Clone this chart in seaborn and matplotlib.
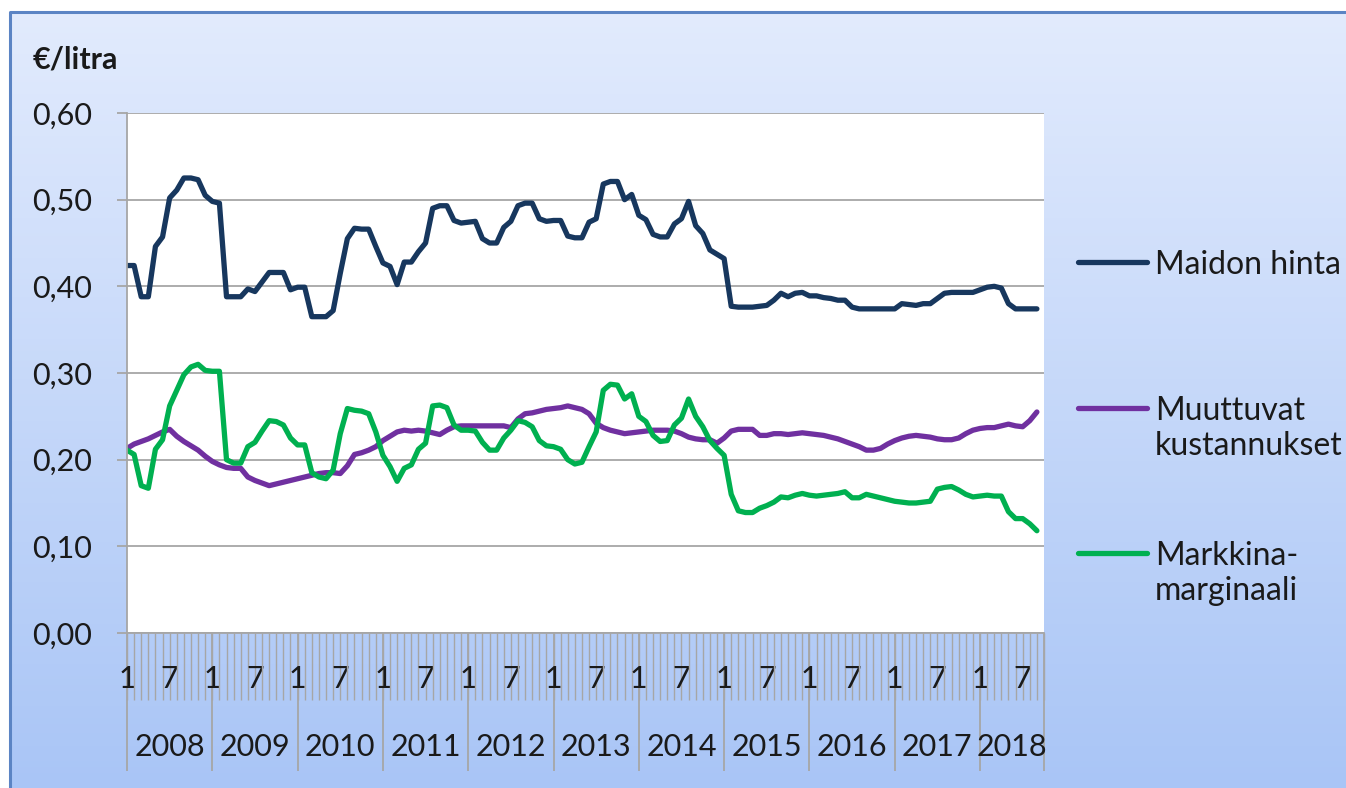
import numpy as np
import pandas as pd
import matplotlib
matplotlib.use("Agg")
import matplotlib.pyplot as plt
import seaborn as sns
from matplotlib.lines import Line2D

# Monthly data, 1/2008 - 9/2018 (€/litra)
years = list(range(2008, 2019))
months_per_year = [12] * 10 + [9]

maidon_hinta = [
    0.424, 0.424, 0.388, 0.388, 0.446, 0.457, 0.502, 0.511, 0.525, 0.525, 0.523, 0.505,
    0.498, 0.496, 0.388, 0.388, 0.388, 0.397, 0.394, 0.405, 0.416, 0.416, 0.416, 0.396,
    0.399, 0.399, 0.365, 0.365, 0.365, 0.372, 0.415, 0.455, 0.467, 0.466, 0.466, 0.446,
    0.427, 0.423, 0.402, 0.428, 0.428, 0.440, 0.450, 0.490, 0.493, 0.493, 0.476, 0.473,
    0.474, 0.475, 0.455, 0.450, 0.450, 0.468, 0.475, 0.493, 0.496, 0.496, 0.478, 0.475,
    0.476, 0.476, 0.458, 0.456, 0.456, 0.474, 0.478, 0.518, 0.521, 0.521, 0.500, 0.506,
    0.482, 0.477, 0.460, 0.457, 0.457, 0.472, 0.478, 0.498, 0.470, 0.461, 0.442, 0.437,
    0.432, 0.377, 0.376, 0.376, 0.376, 0.377, 0.378, 0.384, 0.392, 0.388, 0.392, 0.393,
    0.389, 0.389, 0.387, 0.386, 0.384, 0.384, 0.376, 0.374, 0.374, 0.374, 0.374, 0.374,
    0.374, 0.380, 0.379, 0.378, 0.380, 0.380, 0.386, 0.392, 0.393, 0.393, 0.393, 0.393,
    0.396, 0.399, 0.400, 0.398, 0.380, 0.374, 0.374, 0.374, 0.374,
]
muuttuvat_kustannukset = [
    0.213, 0.218, 0.221, 0.224, 0.228, 0.232, 0.235, 0.227, 0.221, 0.216, 0.211, 0.204,
    0.198, 0.194, 0.191, 0.190, 0.190, 0.180, 0.176, 0.173, 0.170, 0.172, 0.174, 0.176,
    0.178, 0.180, 0.182, 0.184, 0.185, 0.185, 0.184, 0.193, 0.206, 0.208, 0.211, 0.215,
    0.222, 0.227, 0.232, 0.234, 0.233, 0.234, 0.233, 0.231, 0.229, 0.234, 0.238, 0.239,
    0.239, 0.239, 0.239, 0.239, 0.239, 0.239, 0.237, 0.247, 0.253, 0.254, 0.256, 0.258,
    0.259, 0.260, 0.262, 0.260, 0.258, 0.253, 0.242, 0.237, 0.234, 0.232, 0.230, 0.231,
    0.232, 0.233, 0.234, 0.234, 0.234, 0.233, 0.230, 0.226, 0.224, 0.223, 0.223, 0.219,
    0.225, 0.233, 0.235, 0.235, 0.235, 0.228, 0.228, 0.230, 0.230, 0.229, 0.230, 0.231,
    0.230, 0.229, 0.228, 0.226, 0.224, 0.221, 0.218, 0.215, 0.211, 0.211, 0.213, 0.218,
    0.222, 0.225, 0.227, 0.228, 0.227, 0.226, 0.224, 0.223, 0.223, 0.225, 0.230, 0.234,
    0.236, 0.237, 0.237, 0.239, 0.241, 0.239, 0.238, 0.245, 0.255,
]
markkinamarginaali = [
    0.211, 0.206, 0.170, 0.167, 0.212, 0.223, 0.262, 0.280, 0.298, 0.307, 0.310, 0.303,
    0.302, 0.302, 0.200, 0.196, 0.196, 0.215, 0.220, 0.233, 0.245, 0.244, 0.240, 0.225,
    0.217, 0.217, 0.185, 0.180, 0.178, 0.188, 0.230, 0.259, 0.257, 0.256, 0.253, 0.232,
    0.205, 0.192, 0.175, 0.190, 0.194, 0.212, 0.219, 0.262, 0.263, 0.260, 0.240, 0.234,
    0.234, 0.233, 0.220, 0.211, 0.211, 0.225, 0.234, 0.245, 0.243, 0.238, 0.222, 0.216,
    0.215, 0.212, 0.200, 0.195, 0.197, 0.215, 0.232, 0.280, 0.287, 0.286, 0.270, 0.276,
    0.250, 0.244, 0.228, 0.221, 0.222, 0.240, 0.248, 0.270, 0.250, 0.238, 0.222, 0.213,
    0.205, 0.160, 0.141, 0.139, 0.139, 0.144, 0.147, 0.151, 0.157, 0.156, 0.159, 0.161,
    0.159, 0.158, 0.159, 0.160, 0.161, 0.163, 0.156, 0.156, 0.160, 0.158, 0.156, 0.154,
    0.152, 0.151, 0.150, 0.150, 0.151, 0.152, 0.166, 0.168, 0.169, 0.165, 0.160, 0.157,
    0.158, 0.159, 0.158, 0.158, 0.140, 0.132, 0.132, 0.126, 0.118,
]

series_names = ["Maidon hinta", "Muuttuvat\nkustannukset", "Markkina-\nmarginaali"]
colors = ["#17375E", "#7030A0", "#00B050"]

n = len(maidon_hinta)
df = pd.concat([
    pd.DataFrame({"kk": np.arange(n), "arvo": vals, "sarja": name})
    for name, vals in zip(series_names, [maidon_hinta, muuttuvat_kustannukset, markkinamarginaali])
])

sns.set_theme(style="white")
plt.rcParams["font.family"] = ["Lato", "DejaVu Sans"]
txt = "#1a1a1a"
grey = "#a6a6a6"

W, H = 1346, 788
fig = plt.figure(figsize=(W / 100, H / 100), dpi=100)
fig.patch.set_facecolor("white")

# gradient background + frame
bg = fig.add_axes([0, 0, 1, 1], zorder=-10)
bg.set_xlim(0, W)
bg.set_ylim(H, 0)
bg.axis("off")
grad = np.linspace(0, 1, 256)[:, None]
cmap = matplotlib.colors.LinearSegmentedColormap.from_list("bg", ["#e2ebfd", "#a9c5f6"])
bg.imshow(grad, cmap=cmap, extent=[10, W, H, 12], aspect="auto")
bg.plot([10, 10, W], [H, 12, 12], color="#5b84c4", lw=2.2, solid_capstyle="butt")

# plot area
x0, x1, y0, y1 = 127, 1044, 113, 633
ax = fig.add_axes([x0 / W, 1 - y1 / H, (x1 - x0) / W, (y1 - y0) / H])
ax.set_facecolor("white")
sns.lineplot(data=df, x="kk", y="arvo", hue="sarja", hue_order=series_names,
             palette=colors, linewidth=3.8, legend=False, ax=ax)
ax.set_xlim(0, 129)
ax.set_ylim(0, 0.6)
ax.set_xlabel("")
ax.set_ylabel("")

yt = np.arange(0, 0.61, 0.1)
ax.set_yticks(yt)
ax.set_yticklabels([f"{v:.2f}".replace(".", ",") for v in yt], fontsize=22, color=txt)
ax.grid(axis="y", color=grey, lw=1.3)
ax.grid(axis="x", visible=False)
for s in ["top", "right"]:
    ax.spines[s].set_visible(False)
for s in ["left", "bottom"]:
    ax.spines[s].set_color(grey)
    ax.spines[s].set_linewidth(1.3)
ax.tick_params(axis="y", left=True, length=7, width=1.3, color=grey, pad=18)

# month ticks with "1" / "7" labels drawn over them
mpos = np.arange(0, 130)
mlab = []
for i in mpos:
    if i < n and i % 12 == 0:
        mlab.append("1")
    elif i < n and i % 12 == 6:
        mlab.append("7")
    else:
        mlab.append("")
ax.set_xticks(mpos)
ax.set_xticklabels(mlab, fontsize=22, color=txt)
ax.tick_params(axis="x", bottom=True, length=48, width=1.0, color=grey, pad=-25)

# year level
bounds = np.cumsum([0] + months_per_year)
centers = (bounds[:-1] + bounds[1:]) / 2
sec = ax.secondary_xaxis("bottom")
sec.spines["bottom"].set_visible(False)
sec.set_xticks(bounds)
sec.set_xticklabels([""] * len(bounds))
sec.set_xticks(centers, minor=True)
sec.set_xticklabels([str(y) for y in years], minor=True, fontsize=22, color=txt)
sec.tick_params(axis="x", which="major", length=99, width=1.3, color=grey)
sec.tick_params(axis="x", which="minor", length=0, pad=72)

fig.text(33 / W, 1 - 60 / H, "€/litra", fontsize=22, fontweight="bold", color=txt,
         ha="left", va="center")

# legend on the right
leg_y = [262, 408, 553]
for name, c, y in zip(series_names, colors, leg_y):
    fig.add_artist(Line2D([1078 / W, 1147 / W], [1 - y / H, 1 - y / H], color=c, lw=3.8,
                          solid_capstyle="round", transform=fig.transFigure))
    fig.text(1155 / W, 1 - (y - 12) / H, name, fontsize=23, color=txt, ha="left", va="top",
             linespacing=1.22)

fig.savefig("out.png", dpi=100)
